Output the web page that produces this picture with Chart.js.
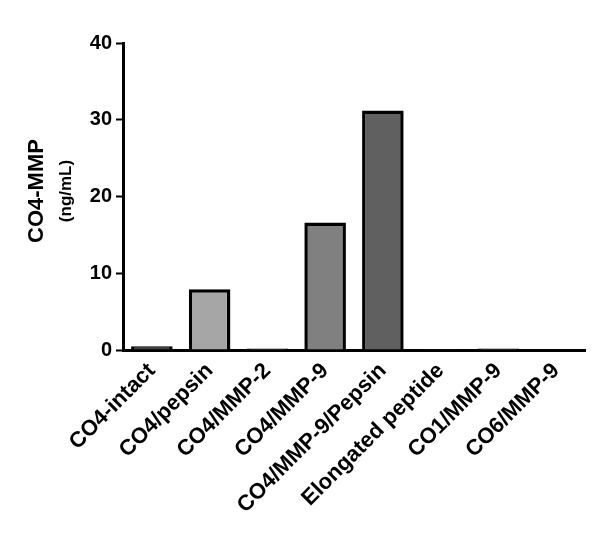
<!DOCTYPE html>
<html>
<head>
<meta charset="utf-8">
<script src="https://cdn.jsdelivr.net/npm/chart.js@4"></script>
<style>
html,body{margin:0;padding:0;background:#fff;}
#wrap{width:600px;height:550px;position:relative;}
</style>
</head>
<body>
<div id="wrap"><canvas id="c" width="600" height="550"></canvas></div>
<script>
const categories = ["CO4-intact","CO4/pepsin","CO4/MMP-2","CO4/MMP-9","CO4/MMP-9/Pepsin","Elongated peptide","CO1/MMP-9","CO6/MMP-9"];
const values = [0.5, 7.9, 0.2, 16.6, 31.2, 0.1, 0.2, 0.05];
const barColors = ["#404040","#a6a6a6","#808080","#808080","#606060","#808080","#808080","#808080"];
const yTicks = [0, 10, 20, 30, 40];
const yTitle = "CO4-MMP";
const yUnit = "(ng/mL)";

const FONT = '"Liberation Sans", Arial, sans-serif';

const titlePlugin = {
  id: 'ytitle',
  afterDraw(chart) {
    const ctx = chart.ctx;
    ctx.save();
    ctx.fillStyle = '#000';
    ctx.textAlign = 'center';
    ctx.textBaseline = 'middle';
    ctx.translate(37, 191);
    ctx.rotate(-Math.PI / 2);
    ctx.font = 'bold 22px ' + FONT;
    ctx.fillText(yTitle, 0, 0);
    ctx.font = 'bold 17px ' + FONT;
    ctx.fillText(yUnit, 0, 29);
    ctx.restore();
  }
};

new Chart(document.getElementById('c'), {
  type: 'bar',
  data: {
    labels: categories,
    datasets: [{
      data: values,
      backgroundColor: barColors,
      borderColor: '#000',
      borderWidth: 3.5,
      borderSkipped: 'bottom',
      categoryPercentage: 1,
      barPercentage: 0.72
    }]
  },
  options: {
    responsive: false,
    animation: false,
    layout: { padding: { left: 0, right: 15, top: 43, bottom: 0 } },
    plugins: { legend: { display: false }, tooltip: { enabled: false } },
    scales: {
      x: {
        offset: true,
        afterFit(scale) { scale.height = 200; },
        grid: { display: false, drawOnChartArea: false, drawTicks: true, tickLength: 8, tickColor: '#000', tickWidth: 2, offset: false },
        border: { display: true, color: '#000', width: 3 },
        ticks: {
          color: '#000',
          maxRotation: 45, minRotation: 45,
          autoSkip: false,
          padding: 0,
          font: { family: FONT, size: 22, weight: 'bold' }
        }
      },
      y: {
        min: 0, max: 40,
        afterFit(scale) { scale.width = 123; },
        afterBuildTicks(scale) { scale.ticks = yTicks.map(v => ({ value: v })); },
        grid: { display: true, drawOnChartArea: false, drawTicks: true, tickLength: 7, tickColor: '#000', tickWidth: 2 },
        border: { display: true, color: '#000', width: 3 },
        ticks: {
          color: '#000',
          padding: 4,
          font: { family: FONT, size: 20, weight: 'bold' }
        }
      }
    }
  },
  plugins: [titlePlugin]
});
</script>
</body>
</html>
